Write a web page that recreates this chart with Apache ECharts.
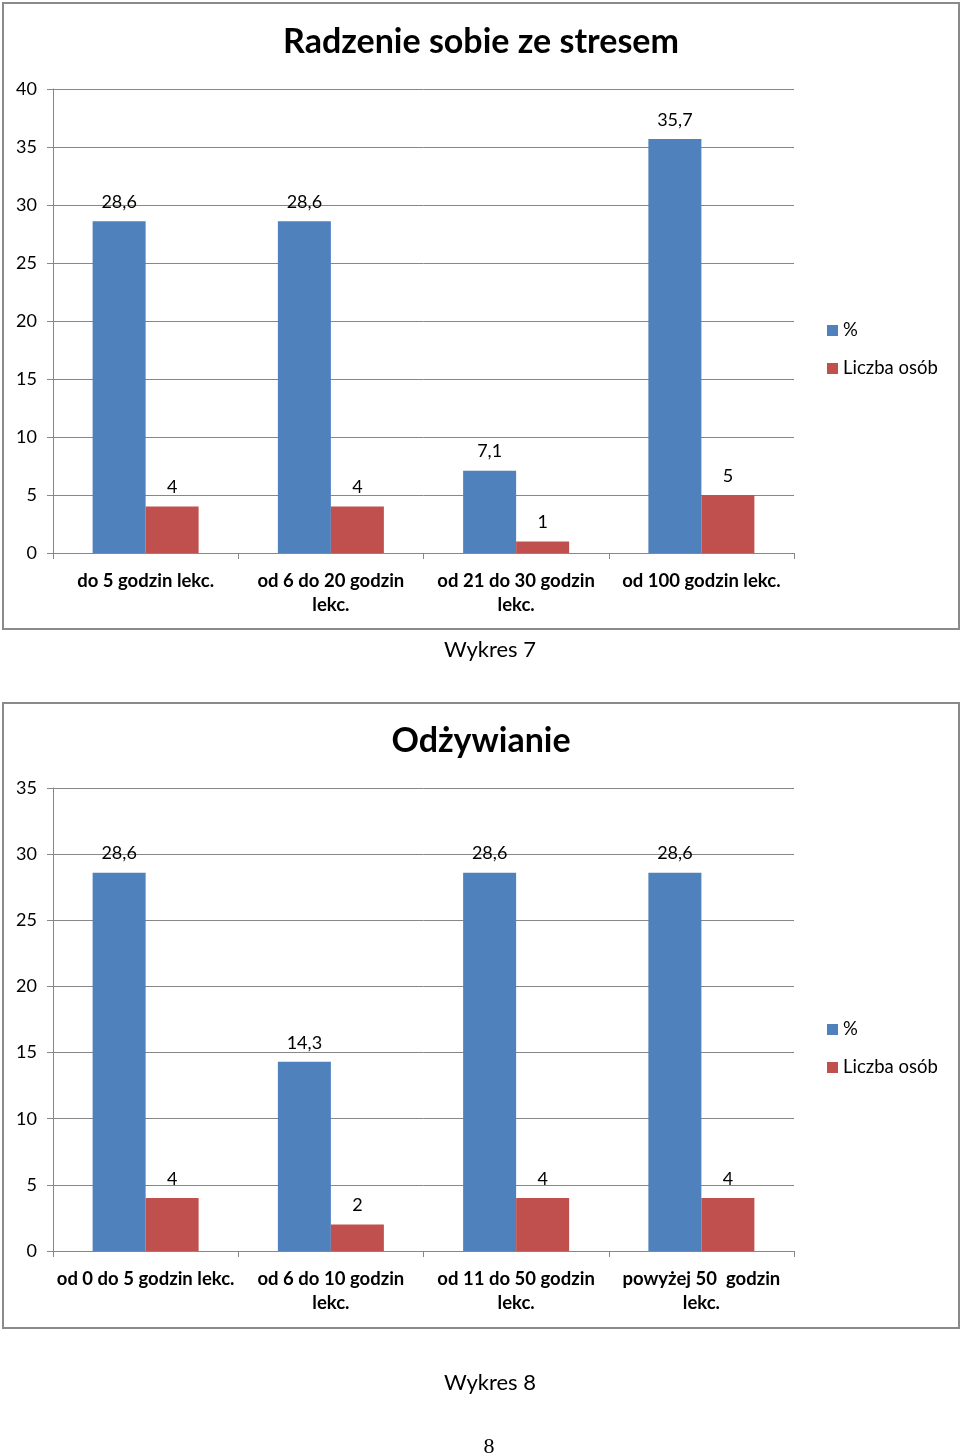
<!DOCTYPE html>
<html><head><meta charset="utf-8">
<script src="https://cdn.jsdelivr.net/npm/echarts@6/dist/echarts.min.js"></script>
<style>html,body{margin:0;padding:0;background:#fff}#c{width:960px;height:1456px}</style>
</head><body><div id="c"></div>
<script>
const title1 = 'Radzenie sobie ze stresem';
const categories1 = ['do 5 godzin lekc.', 'od 6 do 20 godzin\nlekc.', 'od 21 do 30 godzin\nlekc.', 'od 100 godzin lekc.'];
const percent1 = [28.6, 28.6, 7.1, 35.7];
const count1 = [4, 4, 1, 5];
const yTicks1 = {min: 0, max: 40, interval: 5};

const title2 = 'Odżywianie';
const categories2 = ['od 0 do 5 godzin lekc.', 'od 6 do 10 godzin\nlekc.', 'od 11 do 50 godzin\nlekc.', 'powyżej 50  godzin\nlekc.'];
const percent2 = [28.6, 14.3, 28.6, 28.6];
const count2 = [4, 2, 4, 4];
const yTicks2 = {min: 0, max: 35, interval: 5};

const seriesNames = ['%', 'Liczba osób'];
const caption1 = 'Wykres 7';
const caption2 = 'Wykres 8';
const pageNo = '8';

const FONT = 'Lato';
const BLUE = '#4F81BD', RED = '#C0504D', GRID = '#878787';
const fmt = p => String(p.value).replace('.', ',');

function xAx(idx, cats) {
  return {type: 'category', gridIndex: idx, data: cats,
    axisLine: {lineStyle: {color: GRID, width: 1}},
    axisTick: {show: true, length: 6, lineStyle: {color: GRID}, alignWithLabel: false},
    axisLabel: {interval: 0, color: '#000', fontFamily: FONT, fontWeight: 'bold', fontSize: 18.5, margin: 16, lineHeight: 24}};
}
function yAx(idx, t) {
  return {type: 'value', gridIndex: idx, min: t.min, max: t.max, interval: t.interval,
    axisLine: {show: true, lineStyle: {color: GRID}},
    axisTick: {show: true, length: 6, lineStyle: {color: GRID}},
    splitLine: {lineStyle: {color: GRID, width: 1}},
    axisLabel: {color: '#000', fontFamily: FONT, fontSize: 18, margin: 16}};
}
function bar(name, data, idx, color) {
  return {name, type: 'bar', data, xAxisIndex: idx, yAxisIndex: idx, barWidth: 53, barGap: '0%',
    itemStyle: {color}, animation: false,
    label: {show: true, position: 'top', distance: 10, color: '#000', fontFamily: FONT, fontSize: 18, formatter: fmt}};
}
function legend(top) {
  return {data: seriesNames, orient: 'vertical', left: 822, top, itemWidth: 11, itemHeight: 11, itemGap: 19,
    icon: 'rect', textStyle: {fontFamily: FONT, fontSize: 18.5, color: '#000'}};
}

const chart = echarts.init(document.getElementById('c'), null, {renderer: 'canvas'});
chart.setOption({
  animation: false,
  title: [
    {text: title1, left: 476, top: 20, textAlign: 'center', textStyle: {fontFamily: FONT, fontSize: 34, fontWeight: 'bold', color: '#000'}},
    {text: title2, left: 476, top: 719, textAlign: 'center', textStyle: {fontFamily: FONT, fontSize: 34, fontWeight: 'bold', color: '#000'}},
    {text: caption1, left: 485, top: 634, textAlign: 'center', textStyle: {fontFamily: FONT, fontSize: 22, fontWeight: 'normal', color: '#000'}},
    {text: caption2, left: 485, top: 1367, textAlign: 'center', textStyle: {fontFamily: FONT, fontSize: 22, fontWeight: 'normal', color: '#000'}},
    {text: pageNo, left: 484, top: 1431, textAlign: 'center', textStyle: {fontFamily: 'Liberation Serif', fontSize: 22, fontWeight: 'normal', color: '#000'}}
  ],
  graphic: [
    {type: 'rect', shape: {x: 3, y: 3, width: 956, height: 626}, style: {fill: 'none', stroke: '#8a8a8a', lineWidth: 2}, z: -1},
    {type: 'rect', shape: {x: 3, y: 703, width: 956, height: 625}, style: {fill: 'none', stroke: '#8a8a8a', lineWidth: 2}, z: -1}
  ],
  legend: [legend(316), legend(1015)],
  grid: [
    {left: 53, right: 166, top: 89, height: 464},
    {left: 53, right: 166, top: 788, height: 463}
  ],
  xAxis: [xAx(0, categories1), xAx(1, categories2)],
  yAxis: [yAx(0, yTicks1), yAx(1, yTicks2)],
  series: [
    bar(seriesNames[0], percent1, 0, BLUE),
    bar(seriesNames[1], count1, 0, RED),
    bar(seriesNames[0], percent2, 1, BLUE),
    bar(seriesNames[1], count2, 1, RED)
  ]
});
</script></body></html>
